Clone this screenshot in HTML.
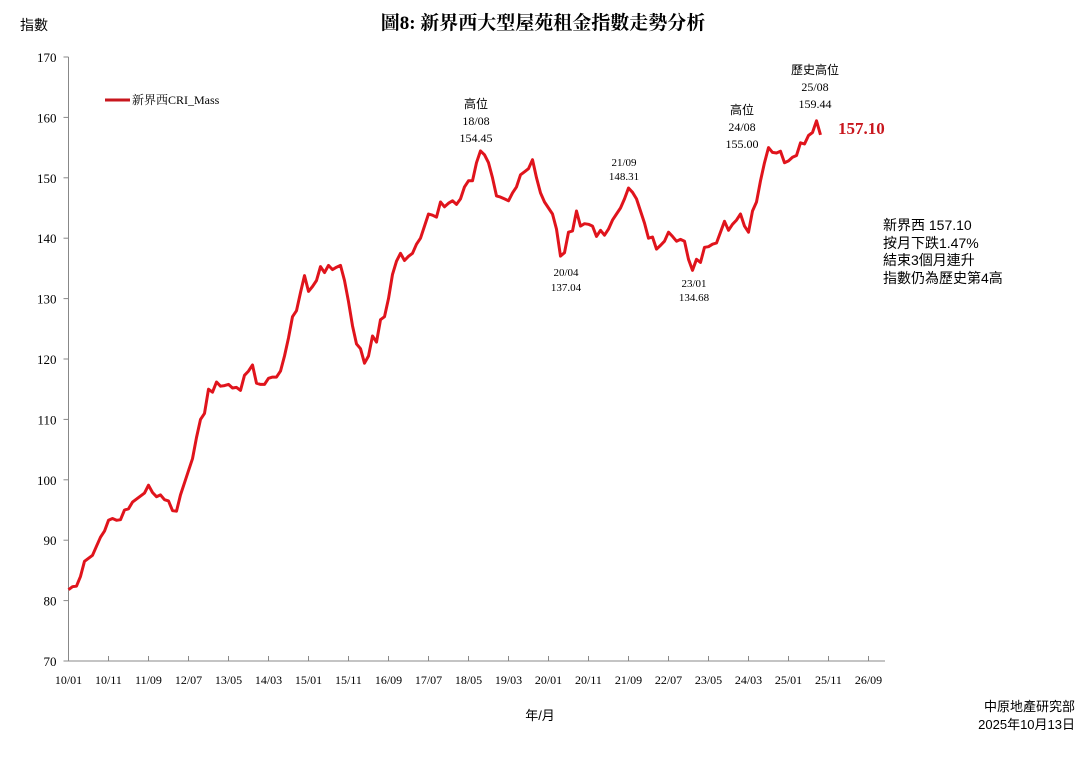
<!DOCTYPE html>
<html><head><meta charset="utf-8"><style>
body{margin:0;background:#fff}
svg text{font-family:"Liberation Serif","Noto Serif CJK SC","Noto Sans CJK TC",serif;fill:#000}
.cj{font-family:"Liberation Sans","Noto Sans CJK TC",sans-serif}
</style></head><body>
<svg id="chart" width="1086" height="758" viewBox="0 0 1086 758" xmlns="http://www.w3.org/2000/svg">
<text x="543" y="29" text-anchor="middle" font-size="19" font-weight="bold">圖8: 新界西大型屋苑租金指數走勢分析</text>
<text x="20" y="30" font-size="14" class="cj">指數</text>
<g id="axes"></g>
<g id="series"></g>
<g>
<line x1="105" y1="100" x2="130" y2="100" stroke="#c8161d" stroke-width="3"/>
<text x="132" y="104" font-size="12">新界西CRI_Mass</text>
</g>
<g font-size="12" text-anchor="middle">
<text x="476" y="108" class="cj">高位</text>
<text x="476" y="125">18/08</text><text x="476" y="142">154.45</text>
<text x="566" y="276" font-size="11">20/04</text><text x="566" y="291" font-size="11">137.04</text>
<text x="624" y="166" font-size="11">21/09</text><text x="624" y="180" font-size="11">148.31</text>
<text x="694" y="287" font-size="11">23/01</text><text x="694" y="301" font-size="11">134.68</text>
<text x="742" y="114" class="cj">高位</text>
<text x="742" y="131">24/08</text><text x="742" y="148">155.00</text>
<text x="815" y="74" class="cj">歷史高位</text>
<text x="815" y="91">25/08</text><text x="815" y="108">159.44</text>
</g>
<text x="838" y="134" font-size="17" font-weight="bold" fill="#c8161d" style="fill:#c8161d">157.10</text>
<g font-size="14" class="cj">
<text x="883" y="230" class="cj">新界西 157.10</text>
<text x="883" y="248" class="cj">按月下跌1.47%</text>
<text x="883" y="265" class="cj">結束3個月連升</text>
<text x="883" y="283" class="cj">指數仍為歷史第4高</text>
</g>
<text x="540" y="720" font-size="13" text-anchor="middle" class="cj">年/月</text>
<text x="1075" y="711" font-size="13" text-anchor="end" class="cj">中原地產研究部</text>
<text x="1075" y="729" font-size="13" text-anchor="end" class="cj">2025年10月13日</text>
</svg>
<script>
const yTicks=[70,80,90,100,110,120,130,140,150,160,170];
const xTickLabels=["10/01","10/11","11/09","12/07","13/05","14/03","15/01","15/11","16/09","17/07","18/05","19/03","20/01","20/11","21/09","22/07","23/05","24/03","25/01","25/11","26/09"];
const v2010=[81.8,82.3,82.4,84.0,86.5,87.0,87.5,89.0,90.5,91.5,93.3,93.6];
const v2011=[93.3,93.4,95.0,95.2,96.3,96.8,97.3,97.8,99.1,97.9,97.2,97.5];
const v2012=[96.7,96.5,94.9,94.8,97.5,99.5,101.5,103.5,107.0,110.0,111.0,115.0];
const v2013=[114.5,116.2,115.5,115.6,115.8,115.2,115.3,114.8,117.3,118.0,119.0,116.0];
const v2014=[115.8,115.8,116.8,117.0,117.0,118.0,120.5,123.5,127.0,128.0,131.0,133.8];
const v2015=[131.2,132.0,133.0,135.3,134.3,135.5,134.8,135.2,135.5,133.0,129.5,125.5];
const v2016=[122.5,121.7,119.3,120.5,123.8,122.8,126.5,127.0,130.0,134.0,136.2,137.5];
const v2017=[136.3,137.0,137.5,139.0,140.0,142.0,144.0,143.8,143.5,146.0,145.2,145.8];
const v2018=[146.2,145.6,146.5,148.5,149.5,149.5,152.5,154.45,153.8,152.5,150.0,147.0];
const v2019=[146.8,146.5,146.2,147.5,148.5,150.5,151.0,151.5,153.0,150.0,147.5,146.0];
const v2020=[145.0,144.0,141.5,137.04,137.6,141.0,141.2,144.5,142.0,142.4,142.3,142.0];
const v2021=[140.3,141.3,140.5,141.5,143.0,144.0,145.0,146.5,148.31,147.6,146.5,144.5];
const v2022=[142.5,140.0,140.2,138.2,138.8,139.5,141.0,140.3,139.5,139.8,139.5,136.5];
const v2023=[134.68,136.5,136.0,138.5,138.6,139.0,139.2,141.0,142.8,141.3,142.3,143.0];
const v2024=[144.0,142.0,141.0,144.5,146.0,149.5,152.5,155.0,154.2,154.1,154.4,152.5];
const v2025=[152.8,153.4,153.7,155.8,155.6,157.0,157.5,159.44,157.1];
const values=[].concat(v2010,v2011,v2012,v2013,v2014,v2015,v2016,v2017,v2018,v2019,v2020,v2021,v2022,v2023,v2024,v2025);
const NS="http://www.w3.org/2000/svg";
const X0=68.5,MPX=4,XEND=885,YTOP=57,YBOT=661,YMIN=70,YMAX=170;
function xScale(m){return X0+m*MPX;}
function yScale(v){return YBOT-(v-YMIN)/(YMAX-YMIN)*(YBOT-YTOP);}
function mk(tag,attrs,parent){const e=document.createElementNS(NS,tag);for(const k in attrs)e.setAttribute(k,attrs[k]);parent.appendChild(e);return e;}
const axes=document.getElementById('axes');
let a=mk('line',{x1:X0,y1:YTOP,x2:X0,y2:YBOT,stroke:'#888','stroke-width':1},axes);


a=mk('line',{x1:X0,y1:YBOT,x2:XEND,y2:YBOT,stroke:'#888','stroke-width':1},axes);


yTicks.forEach(t=>{const y=yScale(t);
 mk('line',{x1:X0-5,y1:y,x2:X0,y2:y,stroke:'#888'},axes);
 const tx=mk('text',{x:X0-12,y:y+5,'font-size':13,'text-anchor':'end'},axes);tx.textContent=t;
 
 
});
xTickLabels.forEach((l,i)=>{const x=xScale(i*10);
 mk('line',{x1:x,y1:YBOT,x2:x,y2:YBOT-5,stroke:'#888'},axes);
 const tx=mk('text',{x:x,y:YBOT+23,'font-size':12,'text-anchor':'middle'},axes);tx.textContent=l;
 
 
});
const ser=document.getElementById('series');
const pts=values.map((v,i)=>xScale(i).toFixed(1)+','+yScale(v).toFixed(1)).join(' ');
const pl=mk('polyline',{points:pts,fill:'none',stroke:'#e0141c','stroke-width':3,'stroke-linejoin':'round'},ser);


</script>
</body></html>
